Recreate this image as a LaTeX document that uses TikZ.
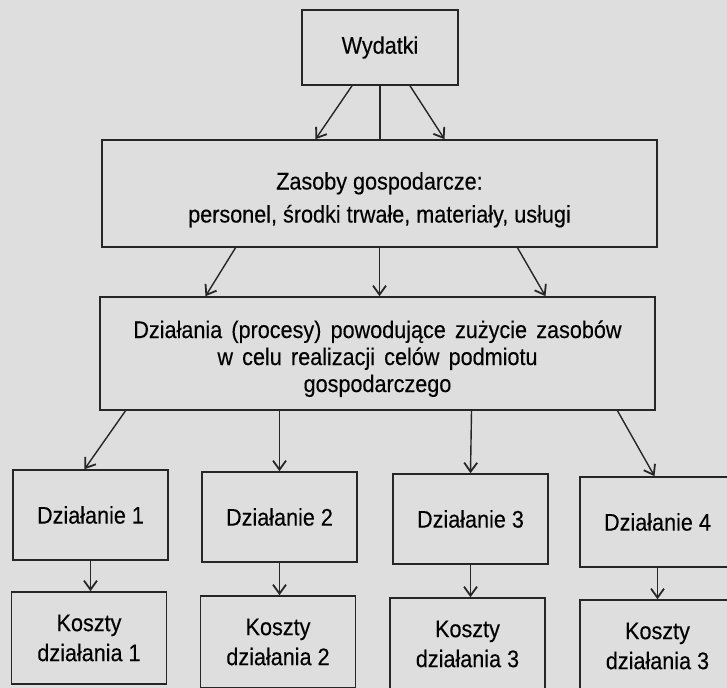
\documentclass[tikz,border=0pt]{standalone}
\usepackage{fontspec}
\setmainfont{Liberation Sans}[FakeStretch=0.9, FakeBold=0.25]
\usetikzlibrary{arrows.meta}
\newcommand\szerspacje{\spaceskip=4.6pt\relax}
\tikzset{
  blok/.style={draw=black!85, line width=0.8pt, align=center, inner sep=2pt, font=\fontsize{12}{13.5}\selectfont},
  dzbox/.style={blok, minimum width=77.5pt, minimum height=45pt},
  kbox/.style={blok, minimum width=77.5pt, minimum height=46pt, font=\fontsize{12}{15}\selectfont},
  strz/.style={draw=black!85, line width=0.7pt, -{Straight Barb[length=4.5pt,width=6.5pt,line width=0.9pt]}},
  lin/.style={draw=black!85, line width=0.7pt}
}

\begin{document}
\begin{tikzpicture}[x=0.5pt, y=-0.5pt]
\useasboundingbox (0,0) rectangle (727,688);
\clip (0,0) rectangle (727,688);
\fill[black!13] (0,0) rectangle (727,688);
% gorne bloki
\node[blok, minimum width=78pt, minimum height=37.5pt] (wyd) at (380,47.5) {Wydatki};
\node[blok, minimum width=277.5pt, minimum height=53.5pt, font=\fontsize{12}{16.5}\selectfont] (zas) at (379.5,193.5)
  {\rule{0pt}{15pt}Zasoby gospodarcze:\\personel, środki trwałe, materiały, usługi};
\node[blok, minimum width=277.5pt, minimum height=56.5pt, font=\fontsize{12}{13.5}\selectfont\szerspacje] (dzi) at (377.5,353.5)
  {\rule{0pt}{14pt}Działania (procesy) powodujące zużycie zasobów\\w celu realizacji celów podmiotu\\gospodarczego};
% dzialania i koszty
\node[dzbox] (d1) at (90.5,515) {Działanie 1};
\node[dzbox] (d2) at (279.5,517) {Działanie 2};
\node[dzbox] (d3) at (470.5,519) {Działanie 3};
\node[dzbox] (d4) at (657.5,522) {Działanie 4};
\node[kbox] (k1) at (89,638) {Koszty\\działania 1};
\node[kbox] (k2) at (278,642) {Koszty\\działania 2};
\node[kbox] (k3) at (467.5,644) {Koszty\\działania 3};
\node[kbox] (k4) at (657.5,646) {Koszty\\działania 3};
% strzalki
\draw[strz] ([xshift=-14pt]wyd.south) -- ([xshift=-32pt]zas.north);
\draw[lin] (wyd.south) -- (wyd.south |- zas.north);
\draw[strz] ([xshift=15pt]wyd.south) -- ([xshift=32.5pt]zas.north);
\draw[strz] ([xshift=-72pt]zas.south) -- ([xshift=-86pt]dzi.north);
\draw[strz] (zas.south) -- (zas.south |- dzi.north);
\draw[strz] ([xshift=69pt]zas.south) -- ([xshift=84pt]dzi.north);
\draw[strz] ([xshift=-126pt]dzi.south) -- ([xshift=-3pt]d1.north);
\draw[strz] ([xshift=-49pt]dzi.south) -- (d2.north);
\draw[strz] ([xshift=47pt]dzi.south) -- (d3.north);
\draw[strz] ([xshift=120pt]dzi.south) -- ([xshift=-1.5pt]d4.north);
\foreach \i in {1,...,4}
  \draw[strz] (d\i.south) -- (d\i.south |- k\i.north);
\end{tikzpicture}
\end{document}
